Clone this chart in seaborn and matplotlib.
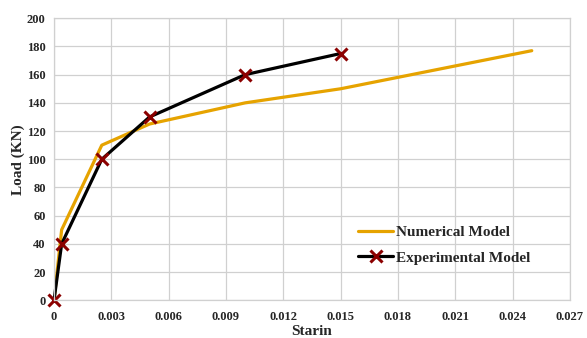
import matplotlib
matplotlib.use("Agg")
import matplotlib.pyplot as plt
import seaborn as sns
import pandas as pd

num_strain = [0, 0.0004, 0.0025, 0.005, 0.010, 0.015, 0.025]
num_load = [0, 50, 110, 125, 140, 150, 177]
exp_strain = [0, 0.0004, 0.0025, 0.005, 0.010, 0.015]
exp_load = [0, 40, 100, 130, 160, 175]
x_ticks = [0, 0.003, 0.006, 0.009, 0.012, 0.015, 0.018, 0.021, 0.024, 0.027]
x_tick_labels = ["0", "0.003", "0.006", "0.009", "0.012", "0.015", "0.018", "0.021", "0.024", "0.027"]
y_ticks = list(range(0, 201, 20))

sns.set_theme(style="whitegrid")
plt.rcParams['font.family'] = ['Liberation Serif', 'DejaVu Serif']
plt.rcParams['font.weight'] = 'bold'

fig = plt.figure(figsize=(5.87, 3.38), dpi=100)
ax = fig.add_axes([0.092, 0.1115, 0.879, 0.8345])

df_num = pd.DataFrame({"Strain": num_strain, "Load": num_load})
df_exp = pd.DataFrame({"Strain": exp_strain, "Load": exp_load})

sns.lineplot(data=df_num, x="Strain", y="Load", ax=ax, color="#E6A300", lw=2.3,
             label="Numerical Model", sort=False)
sns.lineplot(data=df_exp, x="Strain", y="Load", ax=ax, color="black", lw=2.3,
             marker="x", markersize=8, markeredgewidth=2.2, markeredgecolor="#8B0000",
             markerfacecolor="#8B0000", label="Experimental Model", sort=False, clip_on=False)

ax.set_xlim(0, 0.027)
ax.set_ylim(0, 200)
ax.set_xticks(x_ticks)
ax.set_xticklabels(x_tick_labels)
ax.set_yticks(y_ticks)
ax.tick_params(axis='y', labelsize=9, length=0, pad=6)
ax.tick_params(axis='x', labelsize=9, length=0, pad=8)
for lbl in ax.get_xticklabels() + ax.get_yticklabels():
    lbl.set_fontweight('bold')
ax.grid(True, color="#D0D0D0", lw=0.9)
for s in ax.spines.values():
    s.set_color("#D0D0D0")
    s.set_linewidth(0.9)
ax.set_xlabel("Starin", fontsize=11, fontweight='bold', labelpad=1)
ax.set_ylabel("Load (KN)", fontsize=11, fontweight='bold', labelpad=1.5)

leg = ax.legend(loc="center left", bbox_to_anchor=(358 / 587, 1 - 245.2 / 338),
                bbox_transform=fig.transFigure, frameon=False, borderpad=0,
                borderaxespad=0,
                prop={'family': 'Liberation Serif', 'weight': 'bold', 'size': 11},
                handlelength=2.3, handletextpad=0.2, labelspacing=0.75)

fig.savefig("out.png", dpi=100, facecolor="white")
